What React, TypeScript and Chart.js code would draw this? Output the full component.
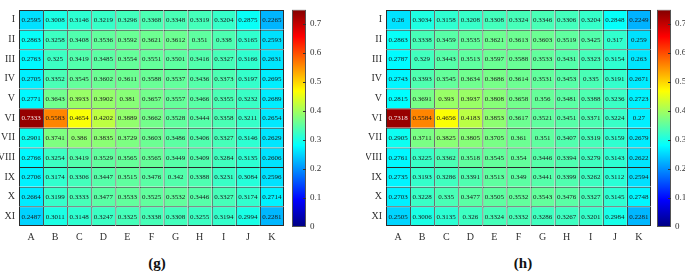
import React, { useEffect, useRef } from "react";
import { Chart, registerables } from "chart.js";
Chart.register(...registerables);

const rowLabels = ["I", "II", "III", "IV", "V", "VI", "VII", "VIII", "IX", "X", "XI"];
const colLabels = ["A", "B", "C", "D", "E", "F", "G", "H", "I", "J", "K"];

const valuesG: number[][] = [
  [0.2595, 0.3008, 0.3146, 0.3219, 0.3296, 0.3368, 0.3348, 0.3319, 0.3204, 0.2875, 0.2265],
  [0.2863, 0.3258, 0.3408, 0.3536, 0.3592, 0.3621, 0.3612, 0.351, 0.338, 0.3165, 0.2593],
  [0.2763, 0.325, 0.3419, 0.3485, 0.3554, 0.3551, 0.3501, 0.3416, 0.3327, 0.3166, 0.2631],
  [0.2705, 0.3352, 0.3545, 0.3602, 0.3611, 0.3588, 0.3537, 0.3436, 0.3373, 0.3197, 0.2695],
  [0.2771, 0.3643, 0.3933, 0.3902, 0.381, 0.3657, 0.3557, 0.3466, 0.3355, 0.3232, 0.2689],
  [0.7333, 0.5583, 0.4654, 0.4202, 0.3889, 0.3662, 0.3528, 0.3444, 0.3358, 0.3211, 0.2654],
  [0.2901, 0.3741, 0.386, 0.3835, 0.3729, 0.3603, 0.3486, 0.3406, 0.3327, 0.3146, 0.2629],
  [0.2766, 0.3254, 0.3419, 0.3529, 0.3565, 0.3565, 0.3449, 0.3409, 0.3284, 0.3135, 0.2606],
  [0.2706, 0.3174, 0.3306, 0.3447, 0.3515, 0.3476, 0.342, 0.3388, 0.3231, 0.3084, 0.2596],
  [0.2664, 0.3199, 0.3333, 0.3477, 0.3533, 0.3525, 0.3532, 0.3446, 0.3327, 0.3174, 0.2714],
  [0.2487, 0.3011, 0.3148, 0.3247, 0.3325, 0.3338, 0.3308, 0.3255, 0.3194, 0.2994, 0.2281],
];

const valuesH: number[][] = [
  [0.26, 0.3034, 0.3158, 0.3208, 0.3308, 0.3324, 0.3346, 0.3306, 0.3204, 0.2848, 0.2249],
  [0.2863, 0.3338, 0.3459, 0.3535, 0.3621, 0.3613, 0.3603, 0.3519, 0.3425, 0.317, 0.259],
  [0.2787, 0.329, 0.3443, 0.3513, 0.3597, 0.3588, 0.3533, 0.3431, 0.3323, 0.3154, 0.263],
  [0.2743, 0.3393, 0.3545, 0.3634, 0.3686, 0.3614, 0.3531, 0.3453, 0.335, 0.3191, 0.2671],
  [0.2815, 0.3691, 0.393, 0.3937, 0.3808, 0.3658, 0.356, 0.3481, 0.3388, 0.3236, 0.2723],
  [0.7318, 0.5584, 0.4656, 0.4183, 0.3853, 0.3617, 0.3521, 0.3451, 0.3371, 0.3224, 0.27],
  [0.2905, 0.3711, 0.3825, 0.3805, 0.3705, 0.361, 0.351, 0.3407, 0.3319, 0.3159, 0.2679],
  [0.2761, 0.3225, 0.3362, 0.3518, 0.3545, 0.354, 0.3446, 0.3394, 0.3279, 0.3143, 0.2622],
  [0.2735, 0.3193, 0.3286, 0.3391, 0.3513, 0.349, 0.3441, 0.3399, 0.3262, 0.3112, 0.2594],
  [0.2703, 0.3228, 0.335, 0.3477, 0.3505, 0.3532, 0.3543, 0.3476, 0.3327, 0.3145, 0.2748],
  [0.2505, 0.3006, 0.3135, 0.326, 0.3324, 0.3332, 0.3286, 0.3267, 0.3201, 0.2984, 0.2281],
];

const colorTicks = [0, 0.1, 0.2, 0.3, 0.4, 0.5, 0.6, 0.7];
const colorMin = 0;
const colorMax = 0.75;

const FONT = '"Liberation Serif", "Times New Roman", serif';
const TICK_COLOR = "#303030";
const GRID_COLOR = "#2b2b2b";

const clamp = (v: number) => Math.max(0, Math.min(1, v));
function jet(t: number): string {
  t = clamp(t);
  const r = clamp(1.5 - Math.abs(4 * t - 3));
  const g = clamp(1.5 - Math.abs(4 * t - 2));
  const b = clamp(1.5 - Math.abs(4 * t - 1));
  return `rgb(${Math.round(r * 255)},${Math.round(g * 255)},${Math.round(b * 255)})`;
}

function Heatmap({ values, left }: { values: number[][]; left: number }) {
  const ref = useRef<HTMLCanvasElement>(null);
  useEffect(() => {
    if (!ref.current) return;
    const nRows = rowLabels.length;
    const nCols = colLabels.length;
    const textPlugin = {
      id: "cellText",
      afterDatasetsDraw(chart: any) {
        const ctx = chart.ctx;
        ctx.save();
        ctx.font = `7px ${FONT}`;
        ctx.textAlign = "center";
        ctx.textBaseline = "middle";
        chart.data.datasets.forEach((_: any, di: number) => {
          const meta = chart.getDatasetMeta(di);
          meta.data.forEach((el: any, ci: number) => {
            const v = values[di][ci];
            const p = el.getCenterPoint();
            ctx.fillStyle = v > 0.68 ? "#f4e6e6" : "#1a1a1a";
            ctx.fillText(String(v), p.x, p.y + 0.5);
          });
        });
        ctx.restore();
      },
    };
    const chart = new Chart(ref.current, {
      type: "bar",
      data: {
        labels: colLabels,
        datasets: values.map((row, r) => ({
          data: row.map(() => [r, r + 1]),
          backgroundColor: row.map((v) => jet((v - colorMin) / (colorMax - colorMin))),
          borderColor: GRID_COLOR,
          borderWidth: (c: any) => ({
            top: 1,
            left: 1,
            right: c.dataIndex === nCols - 1 ? 1 : 0,
            bottom: c.datasetIndex === nRows - 1 ? 1 : 0,
          }),
          borderSkipped: false,
          barPercentage: 1,
          categoryPercentage: 1,
          grouped: false,
          inflateAmount: 0,
        })) as any,
      },
      options: {
        animation: false,
        responsive: false,
        layout: { padding: { top: 1, right: 3, left: 0, bottom: 0 } },
        plugins: { legend: { display: false }, tooltip: { enabled: false } },
        scales: {
          x: {
            type: "category",
            offset: true,
            grid: { display: false, drawTicks: false },
            border: { display: false },
            ticks: { padding: 5, color: TICK_COLOR, font: { family: FONT, size: 10 }, maxRotation: 0 },
            afterFit: (s: any) => {
              s.height = 24;
            },
          },
          y: {
            type: "linear",
            min: 0,
            max: nRows,
            reverse: true,
            grid: { display: false, drawTicks: false },
            border: { display: false },
            afterBuildTicks: (s: any) => {
              s.ticks = rowLabels.map((_, i) => ({ value: i + 0.5 }));
            },
            ticks: {
              autoSkip: false,
              padding: 4,
              color: TICK_COLOR,
              font: { family: FONT, size: 10 },
              callback: (v: any) => rowLabels[Math.floor(Number(v))],
            },
            afterFit: (s: any) => {
              s.width = 20;
            },
          },
        },
      } as any,
      plugins: [textPlugin],
    });
    return () => chart.destroy();
  }, [values]);
  return <canvas ref={ref} width={288} height={250} style={{ position: "absolute", left, top: 0 }} />;
}

function ColorBar({ left }: { left: number }) {
  const ref = useRef<HTMLCanvasElement>(null);
  useEffect(() => {
    if (!ref.current) return;
    const innerTicks = {
      id: "innerTicks",
      afterDatasetsDraw(chart: any) {
        const ctx = chart.ctx;
        const y = chart.scales.y;
        const right = chart.chartArea.right;
        ctx.save();
        ctx.strokeStyle = "#333";
        ctx.lineWidth = 1;
        y.ticks.forEach((t: any) => {
          if (t.value <= colorMin) return;
          const py = Math.round(y.getPixelForValue(t.value)) + 0.5;
          ctx.beginPath();
          ctx.moveTo(right - 3, py);
          ctx.lineTo(right, py);
          ctx.stroke();
        });
        ctx.restore();
      },
    };
    const chart = new Chart(ref.current, {
      type: "bar",
      data: {
        labels: ["c"],
        datasets: [
          {
            data: [[colorMin, colorMax]],
            backgroundColor: (c: any) => {
              const area = c.chart.chartArea;
              if (!area) return "#00f";
              const g = c.chart.ctx.createLinearGradient(0, area.bottom, 0, area.top);
              g.addColorStop(0, "rgb(0,0,128)");
              g.addColorStop(0.125, "rgb(0,0,255)");
              g.addColorStop(0.375, "rgb(0,255,255)");
              g.addColorStop(0.5, "rgb(128,255,128)");
              g.addColorStop(0.625, "rgb(255,255,0)");
              g.addColorStop(0.875, "rgb(255,0,0)");
              g.addColorStop(1, "rgb(128,0,0)");
              return g;
            },
            borderColor: "#555",
            borderWidth: 1,
            borderSkipped: false,
            barPercentage: 1,
            categoryPercentage: 1,
            inflateAmount: 0,
          } as any,
        ],
      },
      options: {
        animation: false,
        responsive: false,
        layout: { padding: { top: 1, right: 0, left: 3, bottom: 23 } },
        plugins: { legend: { display: false }, tooltip: { enabled: false } },
        scales: {
          x: { display: false },
          y: {
            position: "right",
            min: colorMin,
            max: colorMax,
            grid: { display: false, drawTicks: false },
            border: { display: false },
            afterBuildTicks: (s: any) => {
              s.ticks = colorTicks.map((v) => ({ value: v }));
            },
            ticks: {
              autoSkip: false,
              padding: 4,
              color: TICK_COLOR,
              font: { family: FONT, size: 9 },
              callback: (v: any) => (Number(v) === 0 ? "0" : Number(v).toFixed(1)),
            },
            afterFit: (s: any) => {
              s.width = 23;
            },
          },
        },
      } as any,
      plugins: [innerTicks],
    });
    return () => chart.destroy();
  }, []);
  return <canvas ref={ref} width={40} height={250} style={{ position: "absolute", left, top: 0 }} />;
}

const captionStyle = (cx: number): React.CSSProperties => ({
  position: "absolute",
  left: cx - 30,
  width: 60,
  top: 254,
  textAlign: "center",
  fontFamily: FONT,
  fontWeight: "bold",
  fontSize: 15,
  color: "#111",
  lineHeight: "18px",
});

export default function App() {
  return (
    <div
      style={{
        position: "absolute",
        left: 0,
        top: 0,
        width: 685,
        height: 273,
        overflow: "hidden",
        background: "#fff",
      }}
    >
      <Heatmap values={valuesG} left={-1} />
      <ColorBar left={289} />
      <Heatmap values={valuesH} left={366} />
      <ColorBar left={654} />
      <div style={captionStyle(157)}>(g)</div>
      <div style={captionStyle(523)}>(h)</div>
    </div>
  );
}
